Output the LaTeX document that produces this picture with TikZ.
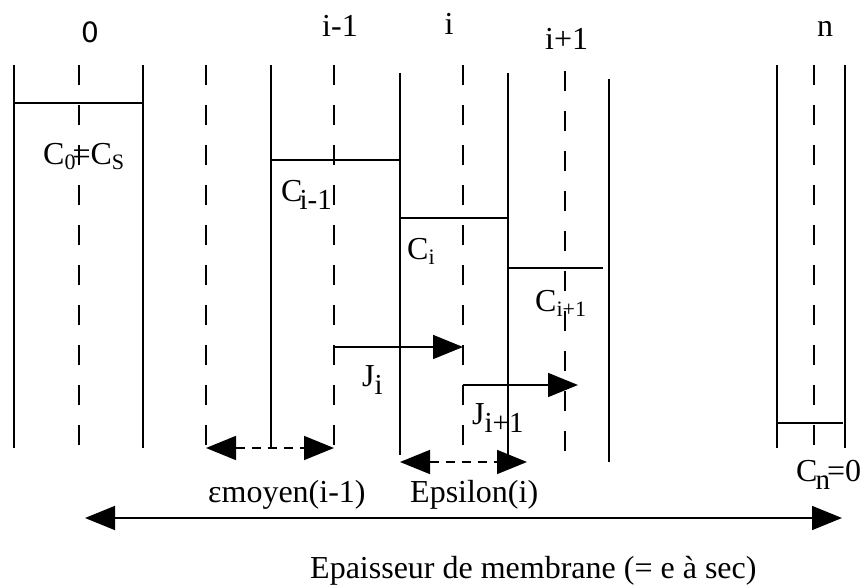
\documentclass[tikz,border=0pt]{standalone}
\usepackage{fontspec}
\setmainfont{Liberation Serif}
\newfontfamily\sansf{DejaVu Sans}
\usetikzlibrary{arrows.meta}
\newcommand{\bsub}[1]{\raisebox{-8pt}{\fontsize{29}{32}\selectfont #1}}
\newcommand{\ssub}[1]{\raisebox{-5pt}{\fontsize{22}{26}\selectfont #1}}
\begin{document}
\begin{tikzpicture}[x=1pt,y=-1pt,
  wall/.style={line width=1.6pt},
  mid/.style={line width=1.6pt, dash pattern=on 20pt off 20pt},
  flux/.style={line width=1.6pt, -{Triangle[length=30pt,width=24pt]}},
  span/.style={line width=1.6pt, dash pattern=on 9pt off 7pt, {Triangle[length=30pt,width=24pt]}-{Triangle[length=30pt,width=24pt]}},
  total/.style={line width=1.6pt, {Triangle[length=30pt,width=24pt]}-{Triangle[length=30pt,width=24pt]}},
  lab/.style={anchor=base west, inner sep=0pt, font=\fontsize{32}{38}\selectfont},
  idx/.style={anchor=base, inner sep=0pt, font=\fontsize{32}{38}\selectfont}]
\useasboundingbox (0,0) rectangle (863,585);
% coordinates
\foreach \n/\x/\t/\b in {a/14/65/448, b/143/65/448, c/271/65/448, d/400/73/455, e/508/73/462, f/609/79/462, g/777/65/448, h/845/65/448}{
  \coordinate (w\n t) at (\x,\t);
  \coordinate (w\n b) at (\x,\b);
  \draw[wall] (w\n t) -- (w\n b);
}
\foreach \n/\x/\t/\b in {0/79/65/448, m/206/65/448, p/334/65/448, i/463/65/452, q/565/71/452, n/814/65/448}{
  \coordinate (d\n t) at (\x,\t);
  \coordinate (d\n b) at (\x,\b);
  \draw[mid] (d\n t) -- (d\n b);
}
% concentration levels
\coordinate (h0a) at (14,103); \coordinate (h0b) at (143,103);
\coordinate (h1a) at (271,160); \coordinate (h1b) at (400,160);
\coordinate (h2a) at (400,218); \coordinate (h2b) at (507,218);
\coordinate (h3a) at (508,268); \coordinate (h3b) at (603,268);
\coordinate (h4a) at (777,423); \coordinate (h4b) at (843,423);
\draw[wall] (h0a) -- (h0b);
\draw[wall] (h1a) -- (h1b);
\draw[wall] (h2a) -- (h2b);
\draw[wall] (h3a) -- (h3b);
\draw[wall] (h4a) -- (h4b);
% fluxes
\coordinate (j1a) at (334,347); \coordinate (j1b) at (463,347);
\coordinate (j2a) at (463,385); \coordinate (j2b) at (578,385);
\draw[flux] (j1a) -- (j1b);
\draw[flux] (j2a) -- (j2b);
% spans
\coordinate (s1a) at (206,448); \coordinate (s1b) at (334,448);
\coordinate (s2a) at (400,462); \coordinate (s2b) at (527,462);
\draw[span] (s1a) -- (s1b);
\draw[span] (s2a) -- (s2b);
\coordinate (ta) at (85,518); \coordinate (tb) at (842,518);
\draw[total] (ta) -- (tb);
% labels
\node[idx, font=\sansf\fontsize{28}{32}\selectfont] (l0) at (90,43) {0};
\node[lab] (lim) at (322,37) {i-1};
\node[idx] (li) at (449,35) {i};
\node[lab] (lip) at (545,50) {i+1};
\node[idx] (ln) at (825,37) {n};
\node[lab] (c0) at (43,165) {C\ssub{0}\kern-3pt=C\ssub{S}};
\node[lab] (cim) at (281,202) {C\kern-3pt\bsub{i-1}};
\node[lab] (ci) at (407,260) {C\ssub{i}};
\node[lab] (cip) at (535,312) {C\ssub{i+1}};
\node[lab] (ji) at (362,387) {J\bsub{i}};
\node[lab] (jip) at (472,425) {J\bsub{i+1}};
\node[lab] (cn) at (796,482) {C\kern-2pt\bsub{n}\kern-3pt=0};
\node[lab] (em) at (208,502) {εmoyen(i-1)};
\node[lab] (ep) at (410,502) {Epsilon(i)};
\node[lab] (epa) at (310,578) {Epaisseur de membrane (= e à sec)};
\end{tikzpicture}
\end{document}
